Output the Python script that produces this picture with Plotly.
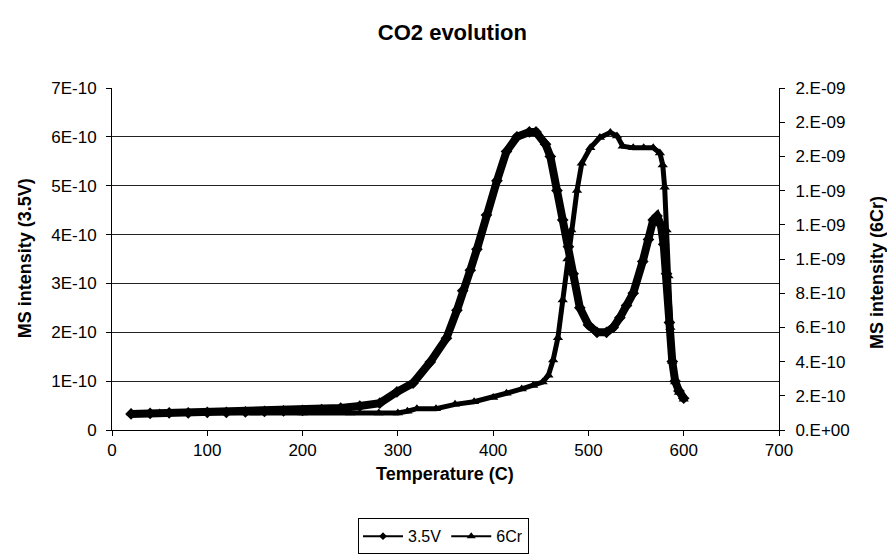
import plotly.graph_objects as go

# Temperature-programmed CO2 signal, two samples
temp_35v = [20, 40, 60, 80, 100, 120, 140, 160, 180, 200, 220, 240, 260, 281, 299,
            316, 334, 351, 362, 368, 376, 383, 393, 404, 414, 425, 438, 445, 455,
            460, 467, 473, 479, 484, 491, 500, 509, 519, 526, 533, 540, 547, 557,
            563, 568, 572, 576, 579, 582, 585, 588, 591, 595, 600]
ms_35v = [0.33, 0.34, 0.35, 0.35, 0.36, 0.36, 0.37, 0.38, 0.39, 0.40, 0.42, 0.45,
          0.49, 0.55, 0.78, 0.96, 1.39, 1.88, 2.45, 2.85, 3.27, 3.70, 4.40, 5.10,
          5.70, 6.00, 6.10, 6.10, 5.85, 5.60, 4.90, 4.30, 3.75, 3.20, 2.50, 2.15,
          2.00, 2.00, 2.10, 2.30, 2.55, 2.80, 3.45, 3.90, 4.30, 4.38, 4.20, 3.80,
          3.20, 2.20, 1.40, 1.00, 0.80, 0.65]  # x 1E-10

temp_6cr = [20, 50, 100, 150, 200, 250, 280, 300, 310, 320, 340, 360, 380, 400,
            414, 430, 442, 452, 458, 463, 468, 473, 478, 482, 488, 493, 502, 512,
            523, 530, 536, 547, 558, 568, 575, 578, 580, 582, 584, 586, 588, 591,
            595, 600]
ms_6cr = [0.100, 0.100, 0.100, 0.100, 0.100, 0.100, 0.100, 0.100, 0.110, 0.125,
          0.125, 0.150, 0.165, 0.190, 0.215, 0.240, 0.260, 0.280, 0.320, 0.410,
          0.540, 0.760, 1.000, 1.170, 1.400, 1.560, 1.650, 1.710, 1.740, 1.720,
          1.660, 1.650, 1.650, 1.650, 1.620, 1.550, 1.420, 1.170, 0.900, 0.600,
          0.400, 0.280, 0.220, 0.180]  # x 1E-9

left_tickvals = [0, 1e-10, 2e-10, 3e-10, 4e-10, 5e-10, 6e-10, 7e-10]
left_ticktext = ["0", "1E-10", "2E-10", "3E-10", "4E-10", "5E-10", "6E-10", "7E-10"]
right_tickvals = [0, 2e-10, 4e-10, 6e-10, 8e-10, 1.0e-9, 1.2e-9, 1.4e-9, 1.6e-9, 1.8e-9, 2.0e-9]
right_ticktext = ["0.E+00", "2.E-10", "4.E-10", "6.E-10", "8.E-10", "1.E-09",
                  "1.E-09", "1.E-09", "2.E-09", "2.E-09", "2.E-09"]
x_tickvals = [0, 100, 200, 300, 400, 500, 600, 700]

FONT = "Liberation Sans, Arial, sans-serif"

fig = go.Figure()

fig.add_trace(go.Scatter(
    x=temp_35v, y=[v * 1e-10 for v in ms_35v], name="3.5V", mode="lines+markers",
    line=dict(color="black", width=8), marker=dict(symbol="diamond", size=9, color="black"),
    showlegend=False, legendgroup="a", yaxis="y"))
fig.add_trace(go.Scatter(
    x=temp_6cr, y=[v * 1e-9 for v in ms_6cr], name="6Cr", mode="lines+markers",
    line=dict(color="black", width=5), marker=dict(symbol="triangle-up", size=9, color="black"),
    showlegend=False, legendgroup="b", yaxis="y2"))

# thin legend entries
fig.add_trace(go.Scatter(
    x=[None], y=[None], name="3.5V", mode="lines+markers", legendgroup="a",
    line=dict(color="black", width=2), marker=dict(symbol="diamond", size=6, color="black")))
fig.add_trace(go.Scatter(
    x=[None], y=[None], name="6Cr", mode="lines+markers", legendgroup="b",
    line=dict(color="black", width=2), marker=dict(symbol="triangle-up", size=8, color="black"),
    yaxis="y2"))

tick_font = dict(family=FONT, size=17, color="black")
legend_font = dict(family=FONT, size=16, color="black")
title_font = dict(family=FONT, size=18, color="black")

fig.update_layout(
    width=887, height=559,
    margin=dict(l=112, r=108, t=88, b=129, autoexpand=False),
    paper_bgcolor="white", plot_bgcolor="white",
    title=dict(text="<b>CO2 evolution</b>", x=0.51, xanchor="center", y=0.943, yanchor="middle",
               font=dict(family=FONT, size=22, color="black")),
    showlegend=True,
    legend=dict(orientation="h", x=0.497, xanchor="center", y=-0.258, yanchor="top",
                bordercolor="black", borderwidth=1, font=legend_font,
                itemwidth=40, tracegroupgap=0),
    xaxis=dict(range=[0, 700], tickvals=x_tickvals, ticks="outside", ticklen=5,
               tickcolor="black", showline=True, linecolor="black", linewidth=1,
               showgrid=False, zeroline=False, tickfont=tick_font, automargin=False),
    yaxis=dict(range=[0, 7e-10], tickvals=left_tickvals, ticktext=left_ticktext,
               ticks="outside", ticklen=5, tickcolor="black", showline=True,
               linecolor="black", linewidth=1, showgrid=True, gridcolor="#222",
               gridwidth=1, zeroline=False, tickfont=tick_font, ticklabelstandoff=6,
               automargin=False),
    yaxis2=dict(range=[0, 2e-9], tickvals=right_tickvals, ticktext=right_ticktext,
                overlaying="y", side="right", anchor="x", ticks="outside", ticklen=5,
                tickcolor="black", showline=True, linecolor="black", linewidth=1,
                showgrid=False, zeroline=False, tickfont=tick_font, ticklabelstandoff=7,
                automargin=False),
    # inner half of the crossing tick marks
    xaxis2=dict(range=[0, 700], tickvals=x_tickvals, overlaying="x", anchor="y", side="bottom",
                ticks="inside", ticklen=4, tickcolor="black", showticklabels=False,
                showgrid=False, zeroline=False, showline=False),
    yaxis3=dict(range=[0, 7e-10], tickvals=left_tickvals, overlaying="y", anchor="x", side="left",
                ticks="inside", ticklen=4, tickcolor="black", showticklabels=False,
                showgrid=False, zeroline=False, showline=False),
    yaxis4=dict(range=[0, 2e-9], tickvals=right_tickvals, overlaying="y", anchor="x", side="right",
                ticks="inside", ticklen=4, tickcolor="black", showticklabels=False,
                showgrid=False, zeroline=False, showline=False),
    annotations=[
        dict(text="<b>Temperature (C)</b>", xref="paper", yref="paper", x=0.499, y=-0.128,
             xanchor="center", yanchor="middle", showarrow=False, font=title_font),
        dict(text="<b>MS intensity (3.5V)</b>", xref="paper", yref="paper", x=-0.130, y=0.503,
             xanchor="center", yanchor="middle", textangle=-90, showarrow=False, font=title_font),
        dict(text="<b>MS intensity (6Cr)</b>", xref="paper", yref="paper", x=1.146, y=0.46,
             xanchor="center", yanchor="middle", textangle=-90, showarrow=False, font=title_font),
    ],
)

fig.write_html("out.html")
